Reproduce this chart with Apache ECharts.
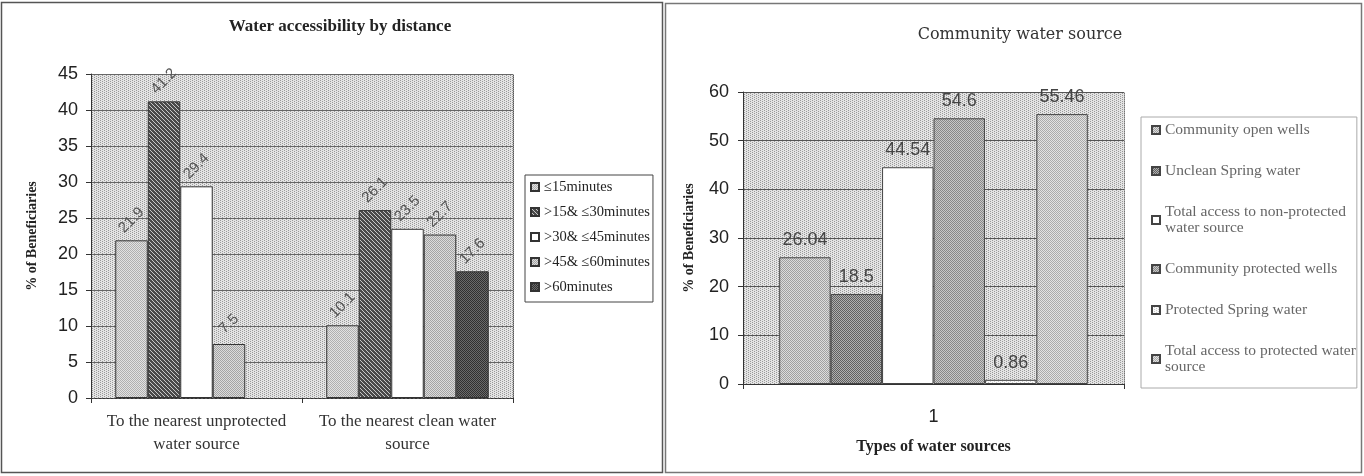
<!DOCTYPE html>
<html>
<head>
<meta charset="utf-8">
<title>Water charts</title>
<script src="https://cdn.jsdelivr.net/npm/echarts@6/dist/echarts.min.js"></script>
<style>
  html, body { margin: 0; padding: 0; background: #fff; }
  #main { width: 1364px; height: 476px; }
</style>
</head>
<body>
<div id="main"></div>
<script type="text/javascript">
// left chart data
var distCats = ['To the nearest unprotected\nwater source', 'To the nearest clean water\nsource'];
var distNames = ['≤15minutes', '>15& ≤30minutes', '>30& ≤45minutes', '>45& ≤60minutes', '>60minutes'];
var upTo15 = [21.9, 10.1];
var from15to30 = [41.2, 26.1];
var from30to45 = [29.4, 23.5];
var from45to60 = [7.5, 22.7];
var over60 = ['-', 17.6];

// right chart data
var srcCats = ['1'];
var srcNames = ['Community open wells', 'Unclean Spring water', 'Total access to non-protected\nwater source',
    'Community protected wells', 'Protected Spring water', 'Total access to protected water\nsource'];
var openWells = [26.04];
var uncleanSpring = [18.5];
var totalNonProtected = [44.54];
var protectedWells = [54.6];
var protectedSpring = [0.86];
var totalProtected = [55.46];

// little stipple patterns, like the scanned excel fills
function pat(bg, fg, kind) {
    var c = document.createElement('canvas');
    c.width = 4; c.height = 4;
    var g = c.getContext('2d');
    g.fillStyle = bg; g.fillRect(0, 0, 4, 4);
    g.fillStyle = fg;
    for (var y = 0; y < 4; y++) {
        for (var x = 0; x < 4; x++) {
            var on = false;
            if (kind == 'fine') on = (x + y) % 2 == 0;
            if (kind == 'sparse') on = x % 4 == (y * 2) % 4;
            if (kind == 'diag') on = (x - y + 4) % 4 == 0;
            if (on) g.fillRect(x, y, 1, 1);
        }
    }
    return { image: c, repeat: 'repeat' };
}

var plotBg = pat('#e4e4e4', '#999999', 'sparse');
var distFills = [
    pat('#e2e2e2', '#b0b0b0', 'fine'),
    pat('#4a4a4a', '#c8c8c8', 'diag'),
    '#ffffff',
    pat('#dcdcdc', '#a4a4a4', 'fine'),
    pat('#6a6a6a', '#303030', 'fine')
];
var srcFills = [
    pat('#dcdcdc', '#a0a0a0', 'fine'),
    pat('#b0b0b0', '#606060', 'fine'),
    '#ffffff',
    pat('#c8c8c8', '#888888', 'fine'),
    pat('#fafafa', '#cccccc', 'sparse'),
    pat('#e2e2e2', '#aaaaaa', 'fine')
];

var sans = 'Liberation Sans';
var serif = 'Liberation Serif';

function distSeries(name, data, i) {
    return {
        name: name, type: 'bar', xAxisIndex: 0, yAxisIndex: 0,
        data: data, barGap: '0%', barCategoryGap: '23%',
        itemStyle: { color: distFills[i], borderColor: '#333', borderWidth: 1 },
        label: {
            show: true, position: 'top', distance: 20, rotate: 45,
            align: 'center', verticalAlign: 'middle',
            fontFamily: sans, fontSize: 15, color: '#555'
        }
    };
}
function srcSeries(name, data, i) {
    return {
        name: name, type: 'bar', xAxisIndex: 1, yAxisIndex: 2,
        data: data, barGap: '0%', barCategoryGap: '19%',
        itemStyle: { color: srcFills[i], borderColor: '#444', borderWidth: 1 },
        label: {
            show: true, position: 'top', distance: 8,
            fontFamily: sans, fontSize: 18, color: '#444'
        }
    };
}

var myChart = echarts.init(document.getElementById('main'), null, { renderer: 'canvas' });
myChart.setOption({
    animation: false,
    backgroundColor: '#fff',
    title: [
        { text: 'Water accessibility by distance', left: 335, top: 13, textAlign: 'center',
          textStyle: { fontFamily: serif, fontWeight: 'bold', fontSize: 17, color: '#222' } },
        { text: 'Community water source', left: 1015, top: 22, textAlign: 'center',
          textStyle: { fontFamily: 'DejaVu Serif', fontWeight: 'normal', fontSize: 16, color: '#333' } }
    ],
    legend: [
        {
            data: distNames, orient: 'vertical', left: 525, top: 175,
            padding: [4, 3, 7, 5], itemGap: 9, itemWidth: 8, itemHeight: 8, icon: 'rect',
            borderColor: '#444', borderWidth: 1, backgroundColor: '#fff',
            textStyle: { fontFamily: serif, fontSize: 14.5, color: '#222', lineHeight: 16 }
        },
        {
            data: srcNames, orient: 'vertical', left: 1141, top: 117,
            padding: [5, 1, 13, 10], itemGap: 25, itemWidth: 8, itemHeight: 8, icon: 'rect',
            borderColor: '#aaa', borderWidth: 1, backgroundColor: '#fff',
            textStyle: { fontFamily: serif, fontSize: 15.5, color: '#666', lineHeight: 16 }
        }
    ],
    grid: [
        { left: 91, top: 74, width: 422, height: 324, show: true, backgroundColor: plotBg,
          borderWidth: 0, containLabel: false, outerBoundsMode: 'none' },
        { left: 743, top: 92, width: 381, height: 292, show: true, backgroundColor: plotBg,
          borderWidth: 0, containLabel: false, outerBoundsMode: 'none' }
    ],
    xAxis: [
        {
            type: 'category', gridIndex: 0, data: distCats,
            axisLine: { show: true, lineStyle: { color: '#333', type: [2, 2] } },
            axisTick: { show: true, length: 5, interval: 0, lineStyle: { color: '#333' } },
            axisLabel: { interval: 0, margin: 12, fontFamily: serif, fontSize: 17, color: '#333', lineHeight: 23 }
        },
        {
            type: 'category', gridIndex: 1, data: srcCats,
            name: 'Types of water sources', nameLocation: 'middle', nameGap: 55,
            nameTextStyle: { fontFamily: serif, fontWeight: 'bold', fontSize: 16, color: '#222' },
            axisLine: { show: true, lineStyle: { color: '#333' } },
            axisTick: { show: true, length: 5, lineStyle: { color: '#333' } },
            axisLabel: { margin: 24, fontFamily: sans, fontSize: 18, color: '#222' }
        }
    ],
    yAxis: [
        {
            type: 'value', gridIndex: 0, min: 0, max: 45, interval: 5,
            name: '% of Beneficiaries', nameLocation: 'middle', nameGap: 52, nameRotate: 90,
            nameTextStyle: { fontFamily: serif, fontWeight: 'bold', fontSize: 14, color: '#222' },
            axisLine: { show: true, lineStyle: { color: '#333' } },
            axisTick: { show: true, length: 5, lineStyle: { color: '#333' } },
            axisLabel: { margin: 13, fontFamily: sans, fontSize: 18, color: '#222' },
            splitLine: { show: true, lineStyle: { color: '#666', width: 1 } }
        },
        {
            type: 'value', gridIndex: 0, min: 0, max: 45, interval: 5, position: 'right',
            axisLine: { show: true, lineStyle: { color: '#555', type: 'dotted' } },
            axisTick: { show: false }, axisLabel: { show: false }, splitLine: { show: false }
        },
        {
            type: 'value', gridIndex: 1, min: 0, max: 60, interval: 10,
            name: '% of Beneficiaries', nameLocation: 'middle', nameGap: 47, nameRotate: 90,
            nameTextStyle: { fontFamily: serif, fontWeight: 'bold', fontSize: 14, color: '#222' },
            axisLine: { show: true, lineStyle: { color: '#333' } },
            axisTick: { show: true, length: 5, lineStyle: { color: '#333' } },
            axisLabel: { margin: 14, fontFamily: sans, fontSize: 18, color: '#222' },
            splitLine: { show: true, lineStyle: { color: '#555', width: 1 } }
        },
        {
            type: 'value', gridIndex: 1, min: 0, max: 60, interval: 10, position: 'right',
            axisLine: { show: true, lineStyle: { color: '#777', type: 'dotted' } },
            axisTick: { show: false }, axisLabel: { show: false }, splitLine: { show: false }
        }
    ],
    graphic: [
        { type: 'rect', shape: { x: 1.5, y: 2.5, width: 661, height: 470 },
          style: { fill: 'none', stroke: '#555', lineWidth: 1.5 }, z: 100 },
        { type: 'rect', shape: { x: 665.5, y: 3.5, width: 696, height: 469 },
          style: { fill: 'none', stroke: '#777', lineWidth: 1.5 }, z: 100 }
    ],
    series: [
        distSeries(distNames[0], upTo15, 0),
        distSeries(distNames[1], from15to30, 1),
        distSeries(distNames[2], from30to45, 2),
        distSeries(distNames[3], from45to60, 3),
        distSeries(distNames[4], over60, 4),
        srcSeries(srcNames[0], openWells, 0),
        srcSeries(srcNames[1], uncleanSpring, 1),
        srcSeries(srcNames[2], totalNonProtected, 2),
        srcSeries(srcNames[3], protectedWells, 3),
        srcSeries(srcNames[4], protectedSpring, 4),
        srcSeries(srcNames[5], totalProtected, 5)
    ]
});
</script>
</body>
</html>
